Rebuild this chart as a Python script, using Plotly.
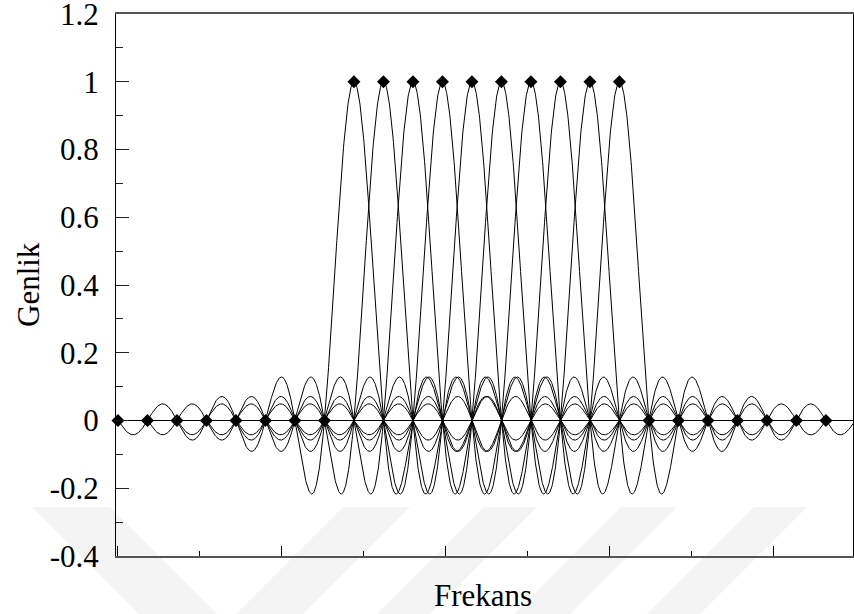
import numpy as np
import plotly.graph_objects as go

# ---------------- data ----------------
# frequency grid step between subcarriers (axis units)
grid_step = 0.18
# sample grid indices shown with diamond markers (0 .. 25)
sample_index = list(range(0, 26))
# active subcarrier indices (their sinc peaks sit at amplitude 1)
subcarrier_index = [8, 9, 10, 11, 12, 13, 14, 15, 16, 17]
subcarrier_amp = [1, 1, 1, 1, 1, 1, 1, 1, 1, 1]
# each subcarrier's sinc is drawn over +/- this many grid steps
sinc_half_span = 8
# sampled amplitude at each grid point (1 on active subcarriers, 0 elsewhere)
sample_value = [1 if n in subcarrier_index else 0 for n in sample_index]

y_tickvals = [-0.4, -0.2, 0, 0.2, 0.4, 0.6, 0.8, 1, 1.2]
y_ticktext = ["-0.4", "-0.2", "0", "0.2", "0.4", "0.6", "0.8", "1", "1.2"]
x_tickvals = [0, 1, 2, 3, 4]

FONT = "Liberation Serif, Times New Roman, serif"

fig = go.Figure()

# watermark stripes (faint, behind everything) -- page pixel coords
W, H = 854, 614
L, R, T, B = 116, 1, 14, 58
pw, ph = W - L - R, H - T - B


def px(x):
    return (x - L) / pw


def py(y):
    return (H - B - y) / ph


stripes = [
    # (top_left_x, top_right_x, direction)  direction +1 => "\", -1 => "/"
    (32, 110, 1),
    (343, 410, -1),
    (484, 537, -1),
    (621, 677, -1),
    (754, 807, -1),
]
y_top, y_bot = 507, 640
for x0, x1, d in stripes:
    dx = d * (y_bot - y_top)
    path = "M {a},{b} L {c},{b} L {e},{f} L {g},{f} Z".format(
        a=px(x0), b=py(y_top), c=px(x1), e=px(x1 + dx), f=py(y_bot), g=px(x0 + dx)
    )
    fig.add_shape(type="path", path=path, xref="paper", yref="paper",
                  fillcolor="#f4f4f4", line=dict(width=0), layer="below")

# sinc curves
for k, a in zip(subcarrier_index, subcarrier_amp):
    n = np.linspace(k - sinc_half_span, k + sinc_half_span, 1200)
    fig.add_trace(go.Scatter(
        x=n * grid_step, y=a * np.sinc(n - k), mode="lines",
        line=dict(color="black", width=1), hoverinfo="skip", showlegend=False))

# sample markers
fig.add_trace(go.Scatter(
    x=[n * grid_step for n in sample_index], y=sample_value, mode="markers",
    marker=dict(symbol="diamond", size=10, color="black"),
    cliponaxis=False, showlegend=False))

fig.update_layout(
    template="none",
    width=W, height=H,
    margin=dict(l=L, r=R, t=T, b=B, autoexpand=False),
    paper_bgcolor="white", plot_bgcolor="rgba(0,0,0,0)",
    font=dict(family=FONT, size=31, color="black"),
    showlegend=False,
)

fig.update_xaxes(
    range=[-0.012, 4.485], showgrid=False, zeroline=False, automargin=False,
    showline=True, linecolor="#555", linewidth=2, mirror=True,
    tickmode="array", tickvals=x_tickvals, showticklabels=False,
    ticks="inside", ticklen=10, tickcolor="black", tickwidth=1,
    minor=dict(ticks="inside", ticklen=5, dtick=0.5, tick0=0, tickcolor="black", showgrid=False),
)
fig.update_yaxes(
    range=[-0.4002, 1.2002], showgrid=False, automargin=False,
    zeroline=True, zerolinecolor="black", zerolinewidth=1.2,
    showline=True, linecolor="black", linewidth=1, mirror=True,
    tickmode="array", tickvals=y_tickvals, ticktext=y_ticktext,
    ticks="inside", ticklen=13, tickcolor="#222", tickwidth=1,
    ticklabelstandoff=10, ticklabeloverflow="allow",
    minor=dict(ticks="inside", ticklen=7, dtick=0.1, tick0=0, tickcolor="#222", showgrid=False),
    tickfont=dict(family=FONT, size=31, color="black"),
)

fig.add_annotation(text="Genlik", xref="paper", yref="paper",
                   x=px(28), y=0.5, textangle=-90, showarrow=False,
                   xanchor="center", yanchor="middle",
                   font=dict(family=FONT, size=31, color="black"))
fig.add_annotation(text="Frekans", xref="paper", yref="paper",
                   x=px(483), y=py(595), showarrow=False,
                   xanchor="center", yanchor="middle",
                   font=dict(family=FONT, size=31, color="black"))

fig.write_html(
    "out.html",
    config={"displayModeBar": False},
    post_script="document.body.style.margin='0';document.body.style.padding='0';",
)
